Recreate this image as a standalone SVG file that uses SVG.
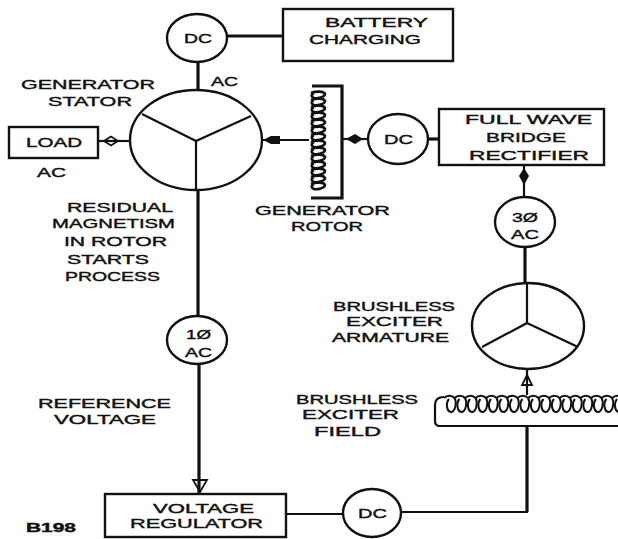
<svg xmlns="http://www.w3.org/2000/svg" width="618" height="539" viewBox="0 0 618 539">
<style>
.s{fill:none;stroke:#111;stroke-width:2.2}
.w{fill:#fff;stroke:#111;stroke-width:2.4}
.c{fill:none;stroke:#111;stroke-width:3.2}
.d{fill:#111;stroke:none}
.o{fill:none;stroke:#111;stroke-width:1.8}
.k{fill:none;stroke:#111;stroke-width:2}
.q{fill:none;stroke:#111;stroke-width:2.6}
text{font-family:"Liberation Sans",Arial,sans-serif;font-size:13px;fill:#111;stroke:#111;stroke-width:.4}
</style>
<defs>
<path id="vl" d="M0 0c5 -2 13 -2 14 1c0 3 -8 5 -11 4c-3 -1 -3 -4 0 -4.500"/>
<path id="hl" d="M0 0c3 -3 8 -3 10.500 0c2.500 4 1 13 -3 14c-5 0 -6 -9 -2.500 -13"/>
</defs>
<g id="connectors">
<path class="c" d="M198 61V90"/>
<path class="c" d="M227 36H283"/>
<path class="s" d="M98 141H130"/>
<path class="o" d="M104 141l7 -4.500l7 4.500l-7 4.500z"/>
<path class="s" d="M262 140H309"/>
<path class="d" d="M263 140l8 -4h9v8h-9z"/>
<path class="s" d="M342 139H368"/>
<path class="d" d="M346 139l9 -5l8 5l-8 5z"/>
<path class="c" d="M428 139H439"/>
<path class="s" d="M524 165V200"/>
<path class="d" d="M524 168l5 8l-5 9l-5 -9z"/>
<path class="c" d="M525 247V283"/>
<path class="s" d="M527 369V395"/>
<path class="o" d="M527 375l5 10h-10z"/>
<path class="c" d="M527 426V512"/>
<path class="s" d="M401 512H528"/>
<path class="s" d="M286 514H343"/>
<path class="c" d="M198 190V317"/>
<path class="c" d="M199 364V494"/>
<path class="o" d="M193 480h14l-7 12z"/>
</g>
<g id="node-dc-top"><ellipse class="w" cx="197" cy="38" rx="30" ry="24"/><text x="184" y="43" textLength="28" lengthAdjust="spacingAndGlyphs">DC</text></g>
<g id="node-battery"><rect class="w" x="283" y="9" width="170" height="52"/><text x="325" y="27" textLength="103" lengthAdjust="spacingAndGlyphs">BATTERY</text><text x="309" y="44" textLength="112" lengthAdjust="spacingAndGlyphs">CHARGING</text></g>
<g id="node-stator"><ellipse class="w" cx="196" cy="140" rx="66" ry="50"/><path class="s" d="M142 114L196 141L251 116M196 141V190"/><text x="21" y="89" textLength="134" lengthAdjust="spacingAndGlyphs">GENERATOR</text><text x="48" y="106" textLength="84" lengthAdjust="spacingAndGlyphs">STATOR</text><text x="211" y="86" textLength="27" lengthAdjust="spacingAndGlyphs">AC</text></g>
<g id="node-load"><rect class="w" x="9" y="127" width="89" height="31"/><text x="26" y="147" textLength="56" lengthAdjust="spacingAndGlyphs">LOAD</text><text x="37" y="177" textLength="29" lengthAdjust="spacingAndGlyphs">AC</text></g>
<g id="label-residual"><text x="67" y="212" textLength="106" lengthAdjust="spacingAndGlyphs">RESIDUAL</text><text x="52" y="228" textLength="123" lengthAdjust="spacingAndGlyphs">MAGNETISM</text><text x="64" y="246" textLength="103" lengthAdjust="spacingAndGlyphs">IN ROTOR</text><text x="67" y="264" textLength="82" lengthAdjust="spacingAndGlyphs">STARTS</text><text x="65" y="281" textLength="95" lengthAdjust="spacingAndGlyphs">PROCESS</text></g>
<g id="node-rotor">
<path class="c" d="M312 86H342V198H311"/>
<g class="q">
<use href="#vl" x="311" y="93"/><use href="#vl" x="311" y="100"/><use href="#vl" x="311" y="107"/><use href="#vl" x="311" y="114"/><use href="#vl" x="311" y="121"/><use href="#vl" x="311" y="128"/><use href="#vl" x="311" y="135"/><use href="#vl" x="311" y="142"/><use href="#vl" x="311" y="149"/><use href="#vl" x="311" y="156"/><use href="#vl" x="311" y="163"/><use href="#vl" x="311" y="170"/><use href="#vl" x="311" y="177"/><use href="#vl" x="311" y="184"/>
</g>
<text x="255" y="215" textLength="135" lengthAdjust="spacingAndGlyphs">GENERATOR</text><text x="291" y="231" textLength="72" lengthAdjust="spacingAndGlyphs">ROTOR</text></g>
<g id="node-dc-mid"><ellipse class="w" cx="398" cy="139" rx="30" ry="25"/><text x="384" y="144" textLength="29" lengthAdjust="spacingAndGlyphs">DC</text></g>
<g id="node-rectifier"><rect class="w" x="439" y="109" width="165" height="56"/><text x="465" y="124" textLength="127" lengthAdjust="spacingAndGlyphs">FULL WAVE</text><text x="486" y="142" textLength="80" lengthAdjust="spacingAndGlyphs">BRIDGE</text><text x="469" y="160" textLength="120" lengthAdjust="spacingAndGlyphs">RECTIFIER</text></g>
<g id="node-3ph"><ellipse class="w" cx="525" cy="222" rx="30" ry="25"/><text x="512" y="222" textLength="26" lengthAdjust="spacingAndGlyphs">3Ø</text><text x="511" y="239" textLength="28" lengthAdjust="spacingAndGlyphs">AC</text></g>
<g id="node-armature"><ellipse class="w" cx="528" cy="326" rx="56" ry="43"/><path class="s" d="M527 283V323L482 347M527 323L578 347"/><text x="333" y="311" textLength="122" lengthAdjust="spacingAndGlyphs">BRUSHLESS</text><text x="346" y="326" textLength="97" lengthAdjust="spacingAndGlyphs">EXCITER</text><text x="332" y="342" textLength="117" lengthAdjust="spacingAndGlyphs">ARMATURE</text></g>
<g id="node-field">
<path class="s" d="M618 426H440Q435 426 435 421V405Q435 397 444 397"/>
<g class="k">
<use href="#hl" x="444" y="398"/><use href="#hl" x="454.500" y="398"/><use href="#hl" x="465" y="398"/><use href="#hl" x="475.500" y="398"/><use href="#hl" x="486" y="398"/><use href="#hl" x="496.500" y="398"/><use href="#hl" x="507" y="398"/><use href="#hl" x="517.500" y="398"/><use href="#hl" x="528" y="398"/><use href="#hl" x="538.500" y="398"/><use href="#hl" x="549" y="398"/><use href="#hl" x="559.500" y="398"/><use href="#hl" x="570" y="398"/><use href="#hl" x="580.500" y="398"/><use href="#hl" x="591" y="398"/><use href="#hl" x="601.500" y="398"/><use href="#hl" x="612" y="398"/>
</g>
<text x="296" y="404" textLength="122" lengthAdjust="spacingAndGlyphs">BRUSHLESS</text><text x="302" y="419" textLength="97" lengthAdjust="spacingAndGlyphs">EXCITER</text><text x="314" y="436" textLength="67" lengthAdjust="spacingAndGlyphs">FIELD</text></g>
<g id="node-1ph"><ellipse class="w" cx="197" cy="340" rx="30" ry="24"/><text x="186" y="339" textLength="25" lengthAdjust="spacingAndGlyphs">1Ø</text><text x="185" y="357" textLength="27" lengthAdjust="spacingAndGlyphs">AC</text></g>
<g id="label-reference"><text x="38" y="408" textLength="133" lengthAdjust="spacingAndGlyphs">REFERENCE</text><text x="54" y="424" textLength="102" lengthAdjust="spacingAndGlyphs">VOLTAGE</text></g>
<g id="node-regulator"><rect class="w" x="105" y="494" width="181" height="43"/><text x="153" y="513" textLength="101" lengthAdjust="spacingAndGlyphs">VOLTAGE</text><text x="130" y="528" textLength="133" lengthAdjust="spacingAndGlyphs">REGULATOR</text></g>
<g id="node-dc-bottom"><ellipse class="w" cx="372" cy="513" rx="29" ry="24"/><text x="358" y="518" textLength="29" lengthAdjust="spacingAndGlyphs">DC</text></g>
<text id="label-code" x="26" y="532" textLength="50" lengthAdjust="spacingAndGlyphs" style="font-size:12px;font-weight:700">B198</text>
</svg>
